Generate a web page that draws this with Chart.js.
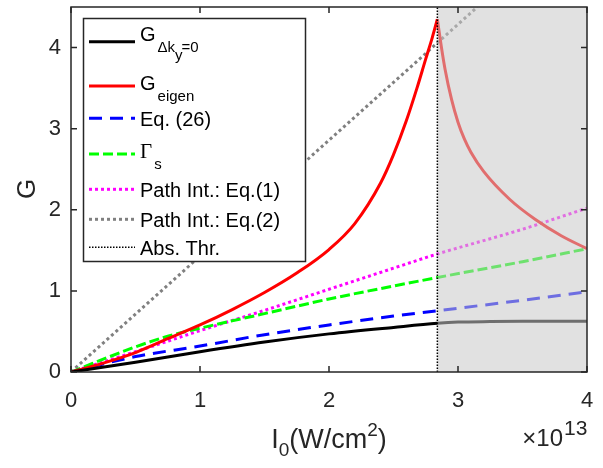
<!DOCTYPE html>
<html>
<head>
<meta charset="utf-8">
<script src="https://cdn.jsdelivr.net/npm/chart.js@4.4.1/dist/chart.umd.min.js"></script>
<style>
  html, body { margin: 0; padding: 0; background: #fff; }
  #wrap { width: 603px; height: 468px; }
</style>
</head>
<body>
<div id="wrap"><canvas id="gainChart" width="603" height="468"></canvas></div>
<script>
// intensity I0 in units of 1e13 W/cm^2, gain G
const xTicks = [0, 1, 2, 3, 4];
const yTicks = [0, 1, 2, 3, 4];
const absThreshold = 2.84;

const xBlack = [0, 0.5, 1, 1.5, 2, 2.5, 2.84, 3.0, 3.25, 3.5, 4];
const gBlack = [0, 0.12, 0.25, 0.37, 0.47, 0.55, 0.60, 0.615, 0.622, 0.625, 0.625];

const xRedRise = [0, 0.25, 0.5, 0.75, 1, 1.25, 1.5, 1.75, 2, 2.2, 2.4, 2.5, 2.6, 2.68, 2.75, 2.8, 2.84];
const gRedRise = [0, 0.11, 0.24, 0.41, 0.58, 0.77, 0.98, 1.22, 1.51, 1.83, 2.33, 2.68, 3.1, 3.49, 3.86, 4.12, 4.35];
const xRedFall = [2.84, 2.87, 2.9, 2.95, 3.0, 3.05, 3.1, 3.2, 3.4, 3.6, 3.8, 4];
const gRedFall = [4.35, 4.02, 3.73, 3.36, 3.08, 2.87, 2.71, 2.47, 2.13, 1.88, 1.68, 1.52];

const xEq26 = [0, 0.5, 1, 1.5, 2, 2.5, 2.84, 3.5, 4];
const gEq26 = [0, 0.19, 0.32, 0.46, 0.58, 0.69, 0.755, 0.885, 0.99];

const xGamma = [0, 0.5, 0.75, 1, 1.5, 2, 2.5, 2.84, 3.5, 4];
const gGamma = [0, 0.31, 0.44, 0.54, 0.72, 0.9, 1.06, 1.165, 1.36, 1.52];

const xPath1 = [0, 0.5, 1, 1.5, 2, 2.5, 2.84, 3.5, 4];
const gPath1 = [0, 0.25, 0.51, 0.76, 1.02, 1.28, 1.455, 1.76, 2.02];

const xPath2 = [0, 3.15];
const gPath2 = [0, 4.5];

const xAbs = [absThreshold, absThreshold];
const gAbs = [0, 4.5];

const SANS = '"Liberation Sans", Arial, Helvetica, sans-serif';
const SERIF = '"Liberation Serif", "DejaVu Serif", serif';
const AXIS_COLOR = '#262626';

function pts(xs, ys) {
    return xs.map((x, i) => ({ x: x, y: ys[i] }));
}

const styles = {
    black:   { color: '#000000', width: 3, dash: [] },
    red:     { color: '#ff0000', width: 3, dash: [] },
    blue:    { color: '#0000ff', width: 3, dash: [13, 8] },
    green:   { color: '#00ff00', width: 3, dash: [10, 4] },
    magenta: { color: '#ff00ff', width: 3, dash: [3, 3] },
    gray:    { color: '#808080', width: 3, dash: [3, 3] },
    thr:     { color: '#000000', width: 1.5, dash: [1.5, 1.5] }
};

function line(data, st, extra) {
    return Object.assign({
        data: data,
        borderColor: st.color,
        borderWidth: st.width,
        borderDash: st.dash,
        pointRadius: 0,
        fill: false,
        cubicInterpolationMode: 'monotone',
        order: 1
    }, extra || {});
}

const datasets = [
    line(pts(xBlack, gBlack), styles.black),
    line(pts(xRedRise, gRedRise), styles.red),
    line(pts(xRedFall, gRedFall), styles.red),
    line(pts(xEq26, gEq26), styles.blue),
    line(pts(xGamma, gGamma), styles.green),
    line(pts(xPath1, gPath1), styles.magenta),
    line(pts(xPath2, gPath2), styles.gray, { cubicInterpolationMode: 'default', tension: 0 }),
    line(pts(xAbs, gAbs), styles.thr, { cubicInterpolationMode: 'default', tension: 0, order: -1 })
];
const absIndex = datasets.length - 1;

// legend rows: sample style, text parts (main / sub / subsub), positions
const legendRows = [
    { st: styles.black, y: 41.7, base: 40.7, parts: [['G', 0], ['\u0394k', 1], ['y', 2], ['=0', 1]] },
    { st: styles.red, y: 86, base: 90, parts: [['G', 0], ['eigen', 1]] },
    { st: styles.blue, y: 118.3, base: 126, parts: [['Eq. (26)', 0]] },
    { st: styles.green, y: 154, base: 157.7, parts: [['\u0393', 3], ['s', 1]] },
    { st: styles.magenta, y: 189.3, base: 196.7, parts: [['Path Int.: Eq.(1)', 0]] },
    { st: styles.gray, y: 219.3, base: 226.7, parts: [['Path Int.: Eq.(2)', 0]] },
    { st: styles.thr, y: 247.3, base: 255, parts: [['Abs. Thr.', 0]] }
];

function drawParts(ctx, x, base, parts) {
    // level 0 main, 1 subscript, 2 sub-subscript, 3 main serif
    let cx = x;
    parts.forEach(p => {
        const txt = p[0], lvl = p[1];
        let size = 20, dy = 0, fam = SANS;
        if (lvl === 1) { size = 15; dy = 11; }
        if (lvl === 2) { size = 15; dy = 19; }
        if (lvl === 3) { size = 21; fam = SERIF; }
        ctx.font = size + 'px ' + fam;
        if (lvl === 1 && cx > x) cx += 2;
        ctx.fillText(txt, cx, base + dy);
        let w = ctx.measureText(txt).width;
        if (lvl === 2) w -= 3;
        cx += w;
    });
}

const matlabLook = {
    id: 'matlabLook',
    beforeDatasetDraw(chart, args) {
        if (args.index !== absIndex) return;
        const { ctx, chartArea: a, scales } = chart;
        const px = scales.x.getPixelForValue(absThreshold);
        ctx.save();
        ctx.fillStyle = 'rgba(200,200,200,0.55)';
        ctx.fillRect(px, a.top, a.right - px, a.bottom - a.top);
        ctx.restore();
    },
    afterDraw(chart) {
        const { ctx, chartArea: a, scales } = chart;
        ctx.save();

        // box and inward ticks
        ctx.strokeStyle = AXIS_COLOR;
        ctx.lineWidth = 1.5;
        ctx.setLineDash([]);
        ctx.strokeRect(a.left, a.top, a.right - a.left, a.bottom - a.top);
        ctx.beginPath();
        xTicks.forEach(v => {
            const px = scales.x.getPixelForValue(v);
            ctx.moveTo(px, a.bottom); ctx.lineTo(px, a.bottom - 6);
            ctx.moveTo(px, a.top); ctx.lineTo(px, a.top + 6);
        });
        yTicks.forEach(v => {
            const py = scales.y.getPixelForValue(v);
            ctx.moveTo(a.left, py); ctx.lineTo(a.left + 6, py);
            ctx.moveTo(a.right, py); ctx.lineTo(a.right - 6, py);
        });
        ctx.stroke();

        // legend
        ctx.fillStyle = '#ffffff';
        ctx.fillRect(83.5, 18.5, 222, 243);
        ctx.strokeStyle = AXIS_COLOR;
        ctx.lineWidth = 1.5;
        ctx.strokeRect(83.5, 18.5, 222, 243);
        legendRows.forEach(r => {
            ctx.beginPath();
            ctx.strokeStyle = r.st.color;
            ctx.lineWidth = r.st.width;
            ctx.setLineDash(r.st.dash);
            ctx.moveTo(89, r.y);
            ctx.lineTo(135, r.y);
            ctx.stroke();
            ctx.setLineDash([]);
            ctx.fillStyle = '#000000';
            ctx.textAlign = 'left';
            ctx.textBaseline = 'alphabetic';
            drawParts(ctx, 140, r.base, r.parts);
        });

        // axis titles
        ctx.fillStyle = AXIS_COLOR;
        ctx.save();
        ctx.translate(28, 189);
        ctx.rotate(-Math.PI / 2);
        ctx.font = '26px ' + SANS;
        ctx.textAlign = 'center';
        ctx.textBaseline = 'middle';
        ctx.fillText('G', 0, 0);
        ctx.restore();

        const xTitle = [['I', 27, 0], ['0', 19, 8], ['(W/cm', 27, 0], ['2', 19, -12], [')', 27, 0]];
        let total = 0;
        xTitle.forEach(p => { ctx.font = p[1] + 'px ' + SANS; total += ctx.measureText(p[0]).width; });
        let cx = 329 - total / 2;
        ctx.textAlign = 'left';
        ctx.textBaseline = 'alphabetic';
        xTitle.forEach(p => {
            ctx.font = p[1] + 'px ' + SANS;
            ctx.fillText(p[0], cx, 448 + p[2]);
            cx += ctx.measureText(p[0]).width;
        });

        // exponent
        ctx.textAlign = 'left';
        ctx.font = '21px ' + SANS;
        ctx.fillText('13', 564, 435);
        ctx.textAlign = 'right';
        ctx.font = '24px ' + SANS;
        ctx.fillText('\u00d710', 563, 446);

        ctx.restore();
    }
};

const canvas = document.getElementById('gainChart');
const ctx = canvas.getContext('2d');
const myChart = new Chart(ctx, {
    type: 'line',
    data: { datasets: datasets },
    options: {
        responsive: false,
        animation: false,
        devicePixelRatio: 1,
        layout: { padding: { left: 0, top: 7, right: 16, bottom: 0 } },
        plugins: {
            legend: { display: false },
            tooltip: { enabled: false }
        },
        scales: {
            x: {
                type: 'linear',
                min: 0,
                max: 4,
                grid: { display: false, drawTicks: false },
                border: { display: false },
                ticks: { color: AXIS_COLOR, font: { family: SANS, size: 22 }, padding: 16, maxRotation: 0 },
                afterBuildTicks: s => { s.ticks = xTicks.map(v => ({ value: v })); },
                afterFit: s => { s.height = 96; s.paddingLeft = 0; s.paddingRight = 0; }
            },
            y: {
                type: 'linear',
                min: 0,
                max: 4.5,
                grid: { display: false, drawTicks: false },
                border: { display: false },
                ticks: { color: AXIS_COLOR, font: { family: SANS, size: 22 }, padding: 10 },
                afterBuildTicks: s => { s.ticks = yTicks.map(v => ({ value: v })); },
                afterFit: s => { s.width = 71; s.paddingTop = 0; s.paddingBottom = 0; }
            }
        }
    },
    plugins: [matlabLook]
});
</script>
</body>
</html>
